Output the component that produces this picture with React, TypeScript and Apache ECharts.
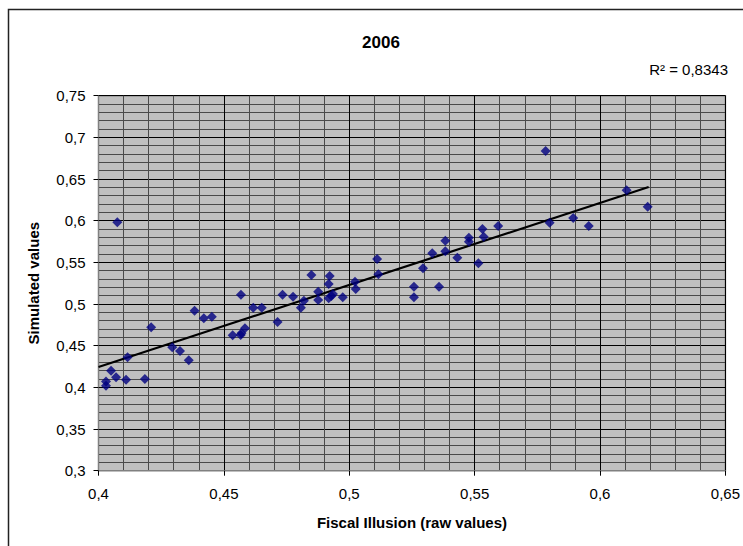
import React, { useEffect, useRef } from "react";
import * as echarts from "echarts";

const titleText = "2006";
const r2Text = "R² = 0,8343";
const xAxisName = "Fiscal Illusion (raw values)";
const yAxisName = "Simulated values";

const fiscalIllusion = [
  0.403, 0.403, 0.405, 0.407, 0.4075, 0.411, 0.4116, 0.4185, 0.421, 0.4294,
  0.4325, 0.436, 0.4383, 0.442, 0.4452, 0.4535, 0.4567, 0.457, 0.4584, 0.4568,
  0.4617, 0.4651, 0.4714, 0.4734, 0.4776, 0.4807, 0.4819, 0.4849, 0.4876, 0.4876,
  0.4918, 0.4922, 0.4918, 0.4929, 0.4935, 0.4974, 0.5026, 0.5023, 0.5111, 0.5116,
  0.5258, 0.5258, 0.5294, 0.5331, 0.5358, 0.5383, 0.5383, 0.5431, 0.5477, 0.5477,
  0.5515, 0.5531, 0.5536, 0.5594, 0.5783, 0.5799, 0.5893, 0.5955, 0.6106, 0.619,
];
const simulated = [
  0.407, 0.402, 0.42, 0.412, 0.598, 0.409, 0.436, 0.41, 0.472, 0.448,
  0.4436, 0.4325, 0.492, 0.483, 0.4848, 0.4625, 0.4628, 0.4649, 0.4709, 0.5112,
  0.4956, 0.4956, 0.4784, 0.5112, 0.5088, 0.4956, 0.504, 0.5348, 0.5148, 0.5048,
  0.524, 0.5336, 0.5069, 0.5096, 0.512, 0.508, 0.518, 0.5268, 0.554, 0.5357,
  0.5208, 0.508, 0.5429, 0.5609, 0.5208, 0.576, 0.5633, 0.5556, 0.5796, 0.5748,
  0.549, 0.59, 0.5808, 0.5936, 0.6836, 0.5976, 0.6032, 0.5936, 0.6364, 0.6168,
];
const trendX = [0.4, 0.6194];
const trendY = [0.4245, 0.6404];

const fmt = (v: number) => String(+v.toFixed(2)).replace(".", ",");
const FONT = "'Liberation Sans', Arial, sans-serif";

export default function App() {
  const ref = useRef<HTMLDivElement>(null);
  useEffect(() => {
    document.body.style.margin = "0";
    document.body.style.overflow = "hidden";
    const chart = echarts.init(ref.current!, null, { renderer: "svg" });
    const pts = fiscalIllusion.map((x, i) => [x, simulated[i]]);
    const trend = trendX.map((x, i) => [x, trendY[i]]);
    const axisCommon = {
      axisLine: { show: true, lineStyle: { color: "#808080", width: 1 } },
      axisTick: { show: true, inside: false, length: 5, lineStyle: { color: "#000", width: 1 } },
      splitLine: { show: true, lineStyle: { color: "#000", width: 1 } },
      minorTick: { show: false, splitNumber: 5 },
      minorSplitLine: { show: true, lineStyle: { color: "#4a4a4a", width: 1 } },
    };
    chart.setOption({
      animation: false,
      backgroundColor: "#fff",
      textStyle: { fontFamily: FONT },
      grid: {
        left: 98.5,
        right: 17,
        top: 95.7,
        bottom: 75.3,
        show: true,
        backgroundColor: "#C0C0C0",
        borderColor: "#808080",
        borderWidth: 1.5,
        containLabel: false,
      },
      graphic: [
        {
          type: "rect",
          silent: true,
          shape: { x: 8.5, y: 9.5, width: 800, height: 600 },
          style: { fill: "none", stroke: "#222", lineWidth: 1.5 },
        },
        {
          type: "text",
          x: 381,
          y: 42,
          style: {
            text: titleText,
            font: `bold 17px ${FONT}`,
            fill: "#000",
            align: "center",
            verticalAlign: "middle",
          },
        },
        {
          type: "text",
          x: 728,
          y: 69,
          style: {
            text: r2Text,
            font: `15px ${FONT}`,
            fill: "#000",
            align: "right",
            verticalAlign: "middle",
          },
        },
      ],
      xAxis: {
        type: "value",
        min: 0.4,
        max: 0.65,
        interval: 0.05,
        name: xAxisName,
        nameLocation: "middle",
        nameGap: 44,
        nameTextStyle: { fontFamily: FONT, fontWeight: "bold", fontSize: 15, color: "#000" },
        axisLabel: { formatter: fmt, fontFamily: FONT, fontSize: 15, color: "#000", margin: 15 },
        ...axisCommon,
      },
      yAxis: {
        type: "value",
        min: 0.3,
        max: 0.75,
        interval: 0.05,
        name: yAxisName,
        nameLocation: "middle",
        nameGap: 58,
        nameTextStyle: { fontFamily: FONT, fontWeight: "bold", fontSize: 15, color: "#000" },
        axisLabel: { formatter: fmt, fontFamily: FONT, fontSize: 15, color: "#000", margin: 13 },
        ...axisCommon,
      },
      series: [
        {
          type: "line",
          data: trend,
          showSymbol: false,
          symbol: "none",
          lineStyle: { color: "#000", width: 2.2 },
          z: 3,
        },
        {
          type: "scatter",
          data: pts,
          symbol: "diamond",
          symbolSize: 10,
          itemStyle: { color: "#000080" },
          z: 4,
        },
      ],
    });
    return () => chart.dispose();
  }, []);
  return <div ref={ref} style={{ width: 743, height: 546 }} />;
}
